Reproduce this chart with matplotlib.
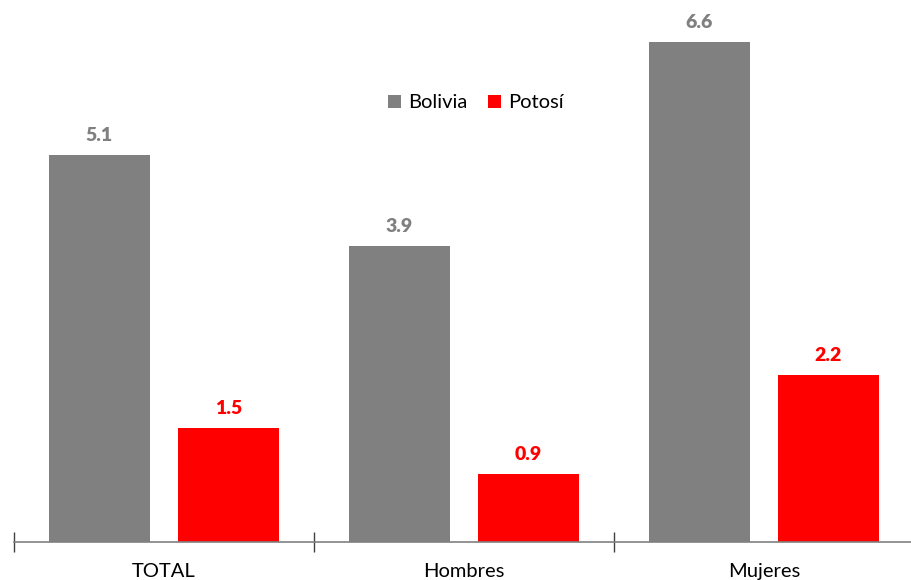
import matplotlib
matplotlib.use("Agg")
import matplotlib.pyplot as plt
import numpy as np

categories = ["TOTAL", "Hombres", "Mujeres"]
series_names = ["Bolivia", "Potosí"]
bolivia = [5.1, 3.9, 6.6]
potosi = [1.5, 0.9, 2.2]
colors = ["#808080", "#FF0000"]

plt.rcParams['font.family'] = ['Lato', 'DejaVu Sans']

fig = plt.figure(figsize=(9.12, 5.8), dpi=100)
W, H = 912, 580
ax = fig.add_axes([14 / W, 38 / H, 900 / W, 542 / H])

x = np.arange(len(categories))
bw = 0.337
off = 0.215
b1 = ax.bar(x - off, bolivia, bw, color=colors[0], label=series_names[0], zorder=2)
b2 = ax.bar(x + off, potosi, bw, color=colors[1], label=series_names[1], zorder=2)

for bars, vals, c in [(b1, bolivia, colors[0]), (b2, potosi, colors[1])]:
    for rect, v in zip(bars, vals):
        ax.annotate(f"{v:.1f}", (rect.get_x() + rect.get_width() / 2, v),
                    xytext=(0, 8), textcoords="offset points",
                    ha="center", va="bottom", fontsize=14, fontweight="heavy", color=c)

ax.set_xlim(-0.5, 2.5)
ax.set_ylim(0, 7.15)
for s in ["top", "right", "left"]:
    ax.spines[s].set_visible(False)
ax.spines["bottom"].set_color("#808080")
ax.spines["bottom"].set_linewidth(1.2)
ax.set_yticks([])
ax.set_xticks([-0.5, 0.5, 1.5, 2.5])
ax.set_xticklabels([])
ax.set_xticks(x, minor=True)
ax.set_xticklabels(categories, minor=True, fontsize=14.5)
ax.tick_params(axis="x", which="major", direction="inout", length=15, width=1, color="#404040")
ax.tick_params(axis="x", which="minor", length=0, pad=15)

leg = ax.legend(loc="center", bbox_to_anchor=(476 / W, 1 - 103 / H), bbox_transform=fig.transFigure,
                ncol=2, frameon=False, fontsize=14.5, handlelength=0.65, handleheight=0.65,
                handletextpad=0.35, columnspacing=1.0)

fig.savefig("out.png", dpi=100)
